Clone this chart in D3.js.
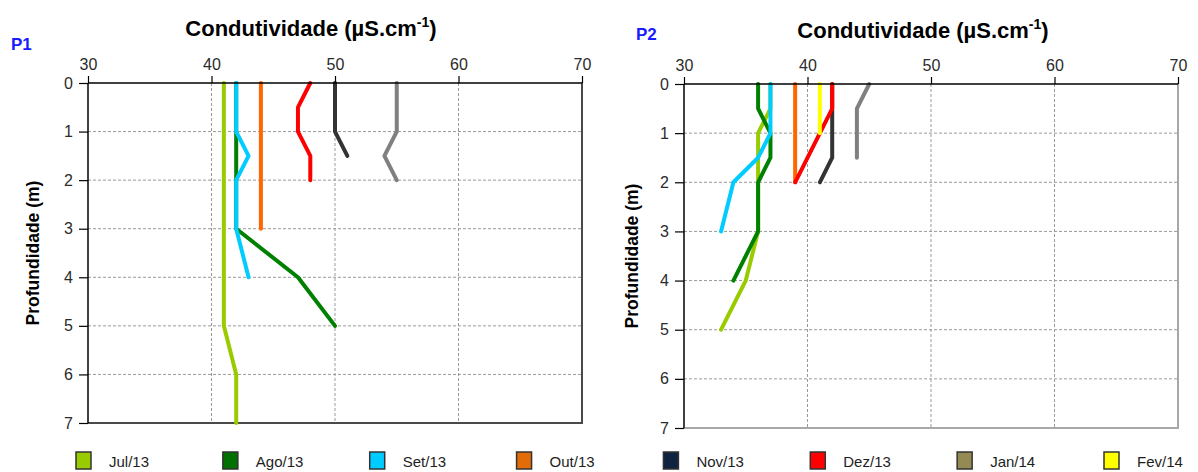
<!DOCTYPE html>
<html>
<head>
<meta charset="utf-8">
<script src="https://cdn.jsdelivr.net/npm/d3@7"></script>
<style>
  html, body { margin: 0; padding: 0; background: #fff; }
  svg { display: block; font-family: "Liberation Sans", Arial, sans-serif; }
</style>
</head>
<body>
<svg id="chart" width="1198" height="472"></svg>
<script>
// Sampling campaigns (legend order = drawing order)
const months = ["Jul/13", "Ago/13", "Set/13", "Out/13", "Nov/13", "Dez/13", "Jan/14", "Fev/14"];
const lineColors = ["#99cc00", "#008000", "#00ccff", "#ff6600", "#333333", "#ff0000", "#808080", "#ffff00"];
const legendColors = ["#99cc00", "#007000", "#00ccff", "#e36c09", "#0f2240", "#ff0000", "#948a54", "#ffff00"];

// Conductivity ticks (µS/cm) and depth ticks (m)
const condTicks = [30, 40, 50, 60, 70];
const depthTicks = [0, 1, 2, 3, 4, 5, 6, 7];

// P1 profiles: depth (m) and conductivity (µS/cm) per campaign
const p1Depth = [
  [0, 5, 6, 7],
  [0, 3, 4, 5],
  [0, 1, 1.5, 2, 3, 4],
  [0, 3],
  [0, 1, 1.5],
  [0, 0.5, 1, 1.5, 2],
  [0, 1, 1.5, 2],
  []
];
const p1Cond = [
  [41, 41, 42, 42],
  [42, 42, 47, 50],
  [42, 42, 43, 42, 42, 43],
  [44, 44],
  [50, 50, 51],
  [48, 47, 47, 48, 48],
  [55, 55, 54, 55],
  []
];

// P2 profiles
const p2Depth = [
  [0, 0.5, 1, 2, 3, 4, 5],
  [0, 0.5, 1, 1.5, 2, 3, 4],
  [0, 1, 1.5, 2, 3],
  [0, 2],
  [0, 0.5, 1.5, 2],
  [0, 0.5, 2],
  [0, 0.5, 1.5],
  [0, 1]
];
const p2Cond = [
  [37, 37, 36, 36, 36, 35, 33],
  [36, 36, 37, 37, 36, 36, 34],
  [37, 37, 36, 34, 33],
  [39, 39],
  [42, 42, 42, 41],
  [42, 42, 39],
  [45, 44, 44],
  [41, 41]
];

const svg = d3.select("#chart");

function drawPanel(opt) {
  const x = d3.scaleLinear().domain([30, 70]).range([opt.left, opt.right]);
  const y = d3.scaleLinear().domain([0, 7]).range([opt.top, opt.bottom]);
  const g = svg.append("g");

  // dashed grid
  g.append("g").selectAll("line")
    .data(condTicks.filter(t => t > 30 && t < 70))
    .join("line")
    .attr("x1", d => x(d)).attr("x2", d => x(d))
    .attr("y1", opt.top).attr("y2", opt.bottom)
    .attr("stroke", "#9a9a9a").attr("stroke-width", 1).attr("stroke-dasharray", "3,2");
  g.append("g").selectAll("line")
    .data(depthTicks.filter(t => t > 0 && t < 7))
    .join("line")
    .attr("x1", opt.left).attr("x2", opt.right)
    .attr("y1", d => y(d)).attr("y2", d => y(d))
    .attr("stroke", "#9a9a9a").attr("stroke-width", 1).attr("stroke-dasharray", "3,2");

  // right and bottom frame
  g.append("path")
    .attr("d", `M${opt.right},${opt.top}V${opt.bottom}H${opt.left}`)
    .attr("fill", "none").attr("stroke", opt.frame).attr("stroke-width", 2);

  // profiles
  const line = d3.line().x(d => x(d[1])).y(d => y(d[0]));
  opt.depth.forEach((dep, i) => {
    if (!dep.length) return;
    const pts = dep.map((d, k) => [d, opt.cond[i][k]]);
    g.append("path")
      .attr("d", line(pts))
      .attr("fill", "none")
      .attr("stroke", lineColors[i])
      .attr("stroke-width", 4)
      .attr("stroke-linejoin", "round")
      .attr("stroke-linecap", "round");
  });

  // axes
  const fmt = d3.format("d");
  const xa = g.append("g")
    .attr("transform", `translate(0,${opt.top})`)
    .call(d3.axisTop(x).tickValues(condTicks).tickFormat(fmt).tickSize(7).tickPadding(6));
  const ya = g.append("g")
    .attr("transform", `translate(${opt.left},0)`)
    .call(d3.axisLeft(y).tickValues(depthTicks).tickFormat(fmt).tickSize(9).tickPadding(6));
  [xa, ya].forEach(a => {
    a.attr("font-size", 16).attr("font-family", "'Liberation Sans', Arial, sans-serif");
    a.select(".domain").attr("stroke", "#000").attr("stroke-width", 1.5);
    a.selectAll(".tick line").attr("stroke", "#000").attr("stroke-width", 1.2);
    a.selectAll(".tick text").attr("fill", "#2b2b2b");
  });
  // domain lines without outer ticks
  xa.select(".domain").attr("d", `M${opt.left},0H${opt.right}`);
  ya.select(".domain").attr("d", `M0,${opt.top}V${opt.bottom}`);

  // titles
  const t = g.append("text")
    .attr("x", opt.titleX).attr("y", opt.titleY)
    .attr("text-anchor", "middle")
    .attr("font-size", 22).attr("font-weight", "bold")
    .attr("fill", "#000");
  t.append("tspan").text("Condutividade (µS.cm");
  t.append("tspan").text("-1").attr("font-size", 14).attr("dy", -9);
  t.append("tspan").text(")").attr("dy", 9);

  g.append("text")
    .attr("x", opt.labelX).attr("y", opt.labelY)
    .attr("font-size", 17).attr("font-weight", "bold")
    .attr("fill", "#1a1aff")
    .text(opt.label);

  g.append("text")
    .attr("transform", `translate(${opt.yTitleX},${(opt.top + opt.bottom) / 2}) rotate(-90)`)
    .attr("text-anchor", "middle")
    .attr("font-size", 17.5).attr("font-weight", "bold")
    .attr("fill", "#000")
    .text("Profundidade (m)");
}

drawPanel({
  left: 88, right: 582, top: 83, bottom: 423,
  depth: p1Depth, cond: p1Cond, frame: "#4a4a4a",
  titleX: 311, titleY: 36, label: "P1", labelX: 11, labelY: 50, yTitleX: 39
});
drawPanel({
  left: 684, right: 1178, top: 84, bottom: 428,
  depth: p2Depth, cond: p2Cond, frame: "#a8a8a8",
  titleX: 923, titleY: 38, label: "P2", labelX: 636, labelY: 40, yTitleX: 638
});

// legend
const lx = d3.scalePoint().domain(months).range([76, 1104]);
const leg = svg.append("g").selectAll("g").data(months).join("g")
  .attr("transform", d => `translate(${lx(d)},452)`);
leg.append("rect")
  .attr("width", 15).attr("height", 17)
  .attr("fill", (d, i) => legendColors[i])
  .attr("stroke", "#333").attr("stroke-width", 1.5);
leg.append("text")
  .attr("x", 33).attr("y", 15)
  .attr("font-size", 15)
  .attr("fill", "#1e1e1e")
  .text(d => d);
</script>
</body>
</html>
